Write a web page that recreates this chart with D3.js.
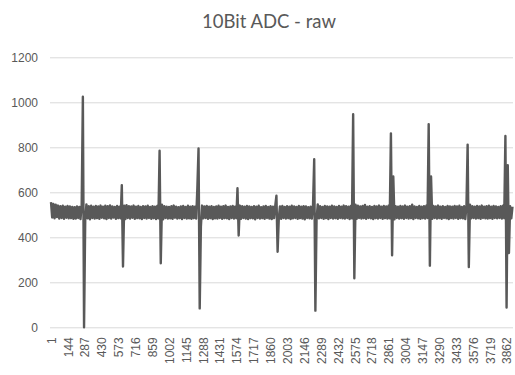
<!DOCTYPE html>
<html>
<head>
<meta charset="utf-8">
<script src="https://cdn.jsdelivr.net/npm/d3@7"></script>
<style>
  html, body { margin: 0; padding: 0; background: #fff; }
  svg { display: block; }
  .tick text { font-family: "Liberation Sans", Arial, sans-serif; font-size: 12px; fill: #595959; }
</style>
</head>
<body>
<svg id="chart" width="515" height="375"></svg>
<script>
// 10-bit ADC raw capture: one plotted value every `sampleStep` samples,
// alternating the upper / lower edge of the noise band, with the pulse peaks.
const title = "10Bit ADC - raw";
const sampleStep = 10;
const adcValues = [
  556,488,548,484,545,490,541,483,538,486,540,482,536,487,539,484,537,485,535,482,
  534,483,537,486,535,481,545,1025,0,478,546,484,538,480,540,486,536,483,539,485,
  537,482,541,487,536,484,540,481,538,486,542,483,537,488,535,482,539,485,536,484,
  632,270,540,481,543,486,538,483,537,487,541,482,536,485,539,484,535,481,538,486,
  537,483,540,486,535,482,538,485,536,481,539,484,785,285,545,480,538,486,536,483,
  535,484,538,482,541,487,536,483,534,485,537,481,539,486,535,483,540,484,536,482,
  538,485,536,483,619,795,84,447,541,484,537,486,539,482,536,485,538,481,535,484,
  537,483,540,486,536,482,538,485,541,484,535,481,537,486,539,483,536,485,618,408,
  541,482,538,486,536,483,539,481,537,485,535,484,538,480,536,486,540,483,534,485,
  537,482,539,486,535,483,538,481,536,485,540,585,336,484,537,482,539,486,535,483,
  538,485,536,481,540,484,537,486,535,482,539,485,536,483,538,480,537,486,534,484,
  536,483,540,747,74,480,546,484,538,486,535,482,539,485,537,481,536,486,540,483,
  537,485,535,482,539,486,536,484,541,483,538,486,536,481,539,484,947,218,545,482,
  540,486,537,483,539,485,544,482,536,486,538,484,535,481,539,485,537,483,541,486,
  536,482,539,485,537,483,540,484,862,320,670,480,538,486,536,483,539,485,537,482,
  541,486,536,483,538,485,545,481,537,486,535,484,539,482,536,485,538,483,540,486,
  903,274,670,482,539,486,537,483,541,485,536,482,538,486,535,484,539,481,537,485,
  536,483,539,486,537,482,540,485,535,484,538,481,536,812,268,545,484,538,486,536,
  483,539,485,537,482,541,486,536,484,538,483,540,485,536,482,539,486,537,484,535,
  486,538,483,540,485,850,88,720,330,538,484,536
];
const xTickLabels = [1,144,287,430,573,716,859,1002,1145,1288,1431,1574,1717,1860,
  2003,2146,2289,2432,2575,2718,2861,3004,3147,3290,3433,3576,3719,3862];
const yTicks = [0,200,400,600,800,1000,1200];

const series = adcValues.map((v, i) => ({ sample: 1 + i * sampleStep, value: v }));

const svg = d3.select("#chart");
const plotLeft = 50, plotRight = 513;

const x = d3.scaleLinear()
  .domain([xTickLabels[0], xTickLabels[xTickLabels.length - 1]])
  .range([51, 506.7]);
const y = d3.scaleLinear().domain([0, 1200]).range([327.3, 57.3]);

// title
svg.append("text")
  .attr("x", 269).attr("y", 28)
  .attr("text-anchor", "middle")
  .attr("font-family", "Lato, 'Liberation Sans', sans-serif")
  .attr("font-size", 18.5)
  .attr("fill", "#595959")
  .text(title);

// y axis with horizontal gridlines
const yAxis = svg.append("g")
  .attr("transform", `translate(${plotLeft},0)`)
  .call(d3.axisLeft(y).tickValues(yTicks).tickFormat(d3.format("d"))
    .tickSize(-(plotRight - plotLeft)).tickPadding(12));
yAxis.select(".domain").remove();
yAxis.selectAll(".tick line").attr("stroke", "#d9d9d9").attr("stroke-width", 1);

// x axis (category labels, rotated)
const xAxis = svg.append("g")
  .attr("transform", `translate(0,${y(0)})`)
  .call(d3.axisBottom(x).tickValues(xTickLabels).tickSize(0).tickFormat(d3.format("d")));
xAxis.select(".domain").remove();
xAxis.selectAll(".tick text")
  .attr("transform", "rotate(-90)")
  .attr("text-anchor", "end")
  .attr("x", -10)
  .attr("y", 0)
  .attr("dy", "0.35em");

// signal trace
const line = d3.line().x(d => x(d.sample)).y(d => y(d.value));
svg.append("path")
  .datum(series)
  .attr("fill", "none")
  .attr("stroke", "#595959")
  .attr("stroke-width", 2.4)
  .attr("stroke-linejoin", "round")
  .attr("d", line);
</script>
</body>
</html>
